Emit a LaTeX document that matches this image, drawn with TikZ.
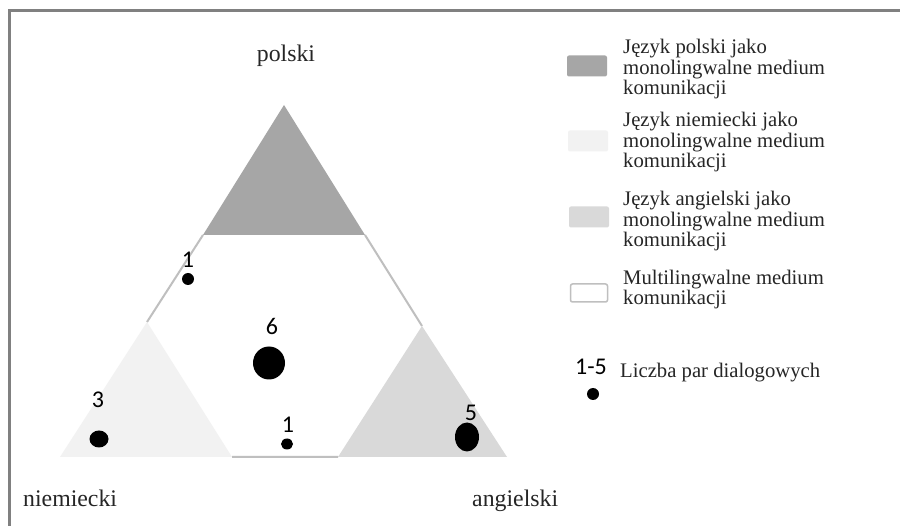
\documentclass[tikz,border=0pt]{standalone}
\usepackage{fontspec}
\setmainfont{Liberation Serif}
\newfontfamily\numfont{Carlito}
\usetikzlibrary{shapes.geometric}

\definecolor{plgray}{HTML}{A6A6A6}
\definecolor{degray}{HTML}{F2F2F2}
\definecolor{engray}{HTML}{D9D9D9}
\definecolor{edgegray}{HTML}{BFBFBF}
\definecolor{framegray}{HTML}{808080}
\definecolor{txtgray}{HTML}{262626}

\begin{document}
\begin{tikzpicture}[x=1pt,y=-1pt,
    dot/.style={ellipse,fill=black,inner sep=0pt},
    num/.style={font=\numfont\fontsize{24}{24}\selectfont,inner sep=0pt},
    lang/.style={font=\fontsize{23.8}{24}\selectfont,text=txtgray,inner sep=0pt},
    legtxt/.style={font=\fontsize{20.7}{20.9}\selectfont,text=txtgray,align=left,inner sep=0pt,anchor=base west},
    swatch/.style={rectangle,rounded corners=2pt,minimum width=40pt,minimum height=21pt,inner sep=0pt}]
            \useasboundingbox (0,0) rectangle (900,526);
            \clip (0,0) rectangle (900,526);
            \fill[white] (0,0) rectangle (900,526);
            \draw[framegray,line width=3pt] (9,11) rectangle (920,550);

            % corners of the three parts
            \coordinate (p1) at (284,105);
            \coordinate (p2) at (203,235);
            \coordinate (p3) at (365,235);
            \coordinate (g1) at (147,322);
            \coordinate (g2) at (60,457);
            \coordinate (g3) at (232,457);
            \coordinate (e1) at (422,326);
            \coordinate (e2) at (338,457);
            \coordinate (e3) at (507,457);

            \fill[plgray] (p1) -- (p2) -- (p3) -- cycle;
            \fill[degray] (g1) -- (g2) -- (g3) -- cycle;
            \fill[engray] (e1) -- (e2) -- (e3) -- cycle;
            \draw[edgegray,line width=2pt] (p2) -- (g1) (p3) -- (e1) (g3) -- (e2);

            \node (pl) [lang,anchor=base] at (286,62) {polski};
            \node (de) [lang,anchor=base west] at (23,507) {niemiecki};
            \node (en) [lang,anchor=base west] at (472,507) {angielski};

            \node (dt) [dot,minimum width=12pt,minimum height=12pt] at (188,279) {};
            \node (dm) [dot,minimum width=32pt,minimum height=33pt] at (269,363) {};
            \node (dg) [dot,minimum width=19pt,minimum height=17pt] at (99,439) {};
            \node (db) [dot,minimum width=12pt,minimum height=11pt] at (287,444) {};
            \node (de5) [dot,minimum width=24pt,minimum height=29pt] at (467,437) {};

            \node (nt) [num] at (188,260) {1};
            \node (nm) [num] at (272,326) {6};
            \node (ng) [num] at (98,400) {3};
            \node (nb) [num] at (288,425) {1};
            \node (ne) [num] at (471,413) {5};

            % legend
            \node (s1) [swatch,fill=plgray] at (587,66) {};
            \node (s2) [swatch,fill=degray] at (588,141) {};
            \node (s3) [swatch,fill=engray] at (589,217) {};
            \node (s4) [swatch,draw=edgegray,line width=1.5pt,fill=white,minimum height=18pt,minimum width=37pt] at (589,293) {};

            \node (l1) [legtxt] at (623,95) {Język polski jako\\monolingwalne medium\\komunikacji};
            \node (l2) [legtxt] at (623,168) {Język niemiecki jako\\monolingwalne medium\\komunikacji};
            \node (l3) [legtxt] at (623,247) {Język angielski jako\\monolingwalne medium\\komunikacji};
            \node (l4) [legtxt] at (623,305) {Multilingwalne medium\\komunikacji};

            \node (n15) [num] at (591,367) {1-5};
            \node (dl) [dot,minimum width=12pt,minimum height=12pt] at (593,394) {};
            \node (l5) [legtxt] at (620,378) {Liczba par dialogowych};
        \end{tikzpicture}
\end{document}
